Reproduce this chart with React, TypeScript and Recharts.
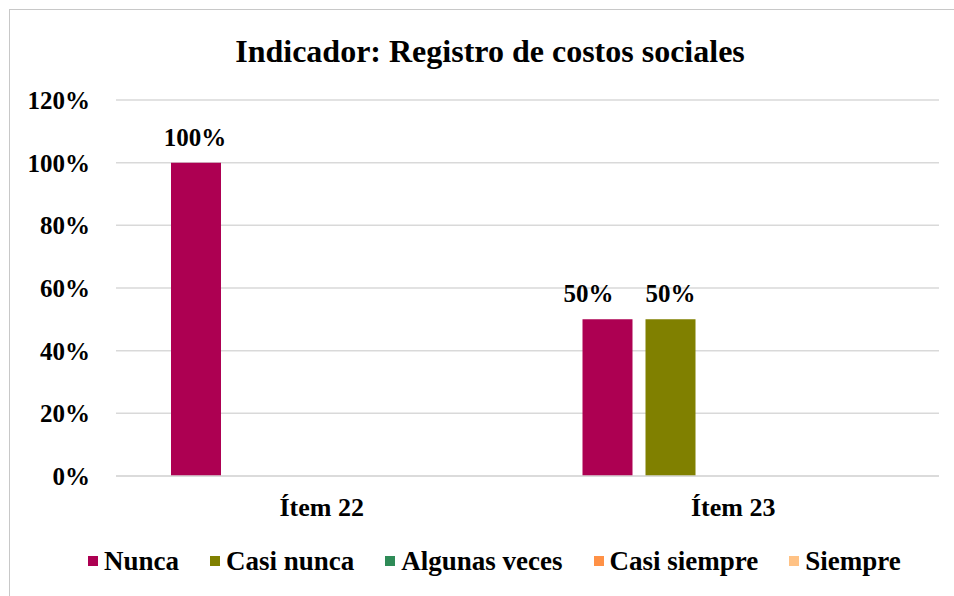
import { useLayoutEffect } from "react";
import { BarChart, Bar, XAxis, YAxis, CartesianGrid, Legend, LabelList } from "recharts";

const categories = ["Ítem 22", "Ítem 23"];
const nunca = [1, 0.5];
const casiNunca = [0, 0.5];
const algunasVeces = [0, 0];
const casiSiempre = [0, 0];
const siempre = [0, 0];
const yTicks = [0, 0.2, 0.4, 0.6, 0.8, 1, 1.2];

const series = [
  { key: "nunca", name: "Nunca", color: "#ad0052", values: nunca },
  { key: "casiNunca", name: "Casi nunca", color: "#808000", values: casiNunca },
  { key: "algunasVeces", name: "Algunas veces", color: "#2e8b57", values: algunasVeces },
  { key: "casiSiempre", name: "Casi siempre", color: "#ff9146", values: casiSiempre },
  { key: "siempre", name: "Siempre", color: "#ffc285", values: siempre },
];

// labels were nudged by hand in the original
const labelShift: Record<string, number[]> = { nunca: [-1, -19], casiNunca: [0, 25] };

const data = categories.map((name, i) => {
  const row: any = { name };
  series.forEach((s) => (row[s.key] = s.values[i]));
  return row;
});

const FONT = '"Liberation Serif", "Times New Roman", serif';
const pct = (v: number) => `${Math.round(v * 100)}%`;

const LegendContent = () => (
  <div style={{ display: "flex", paddingLeft: 78, fontFamily: FONT, fontWeight: 700, fontSize: 27, lineHeight: "30px" }}>
    {series.map((s) => (
      <div key={s.key} style={{ display: "flex", alignItems: "center", marginRight: 31 }}>
        <span style={{ width: 10, height: 10, background: s.color, marginRight: 6 }} />
        <span>{s.name}</span>
      </div>
    ))}
  </div>
);

const makeLabel = (key: string) => (props: any) => {
  const { x, y, width, value, index } = props;
  if (!value) return null;
  const dx = (labelShift[key] || [])[index] || 0;
  return (
    <text
      x={x + width / 2 + dx}
      y={y - 17}
      textAnchor="middle"
      style={{ fill: "#000", fontFamily: FONT, fontWeight: 700, fontSize: 25 }}
    >
      {pct(value)}
    </text>
  );
};

export default function App() {
  useLayoutEffect(() => {
    document.documentElement.style.overflow = "hidden";
    document.body.style.overflow = "hidden";
  }, []);

  return (
    <div
      style={{
        position: "absolute",
        top: 9,
        left: 9,
        width: 944,
        height: 586,
        borderTop: "1px solid #c8c8c8",
        borderLeft: "1px solid #c8c8c8",
        background: "#fff",
        overflow: "hidden",
      }}
    >
      <div
        style={{
          position: "absolute",
          top: 25,
          left: 0,
          width: 960,
          textAlign: "center",
          fontFamily: FONT,
          fontWeight: 700,
          fontSize: 32,
          lineHeight: "32px",
        }}
      >
        Indicador: Registro de costos sociales
      </div>
      <BarChart
        width={944}
        height={586}
        data={data}
        margin={{ top: 90, right: 15, left: 9, bottom: 70 }}
        barSize={50}
        barGap={13}
      >
        <CartesianGrid vertical={false} stroke="#d9d9d9" strokeWidth={1.5} />
        <XAxis
          dataKey="name"
          height={50}
          tickLine={false}
          tickSize={0}
          tickMargin={22}
          axisLine={{ stroke: "#d9d9d9", strokeWidth: 1.5 }}
          tick={{ fill: "#000", fontFamily: FONT, fontWeight: 700, fontSize: 26 }}
        />
        <YAxis
          width={97}
          domain={[0, 1.2]}
          ticks={yTicks}
          tickFormatter={pct}
          tickLine={false}
          axisLine={false}
          tickSize={0}
          tickMargin={26}
          tick={{ fill: "#000", fontFamily: FONT, fontWeight: 700, fontSize: 25 }}
        />
        <Legend
          verticalAlign="middle"
          layout="horizontal"
          wrapperStyle={{ top: 536, left: 0, width: 944 }}
          content={<LegendContent />}
        />
        {series.map((s) => (
          <Bar key={s.key} dataKey={s.key} name={s.name} fill={s.color} isAnimationActive={false}>
            <LabelList dataKey={s.key} content={makeLabel(s.key)} />
          </Bar>
        ))}
      </BarChart>
    </div>
  );
}
